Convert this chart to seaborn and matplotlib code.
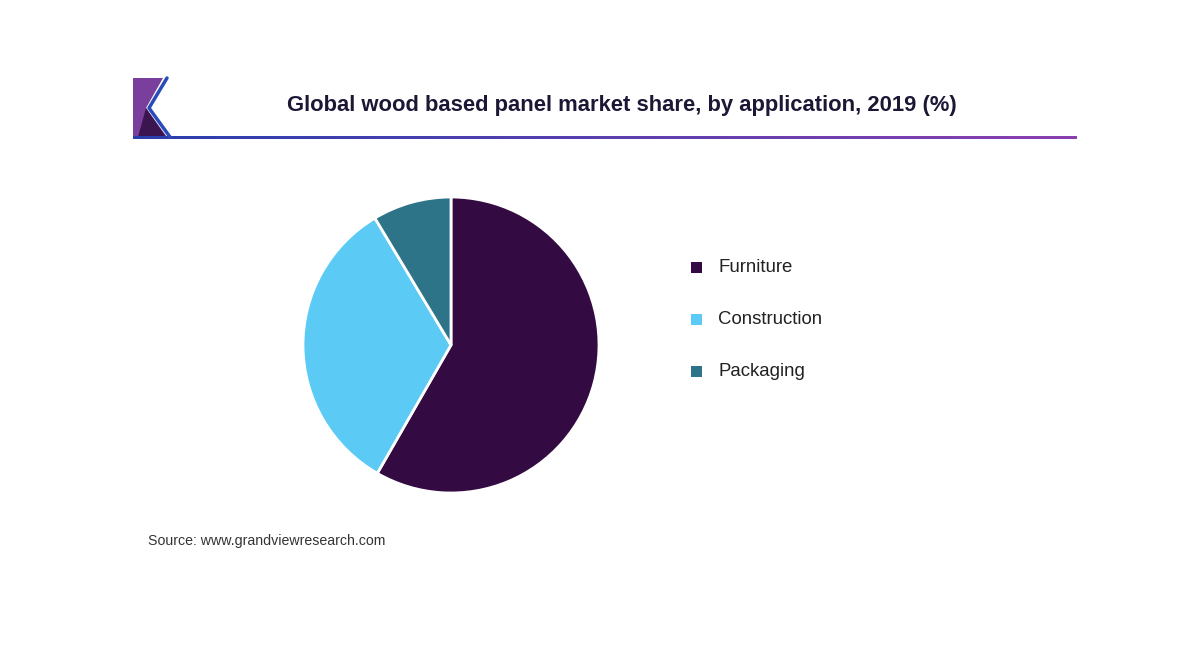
import matplotlib
matplotlib.use("Agg")
import matplotlib.pyplot as plt
import seaborn as sns
import numpy as np
from matplotlib.patches import Polygon, Rectangle
from matplotlib.collections import LineCollection

categories = ["Furniture", "Construction", "Packaging"]
shares = [58.3, 33.1, 8.6]
colors = ["#330A42", "#5BCBF5", "#2E7489"]
title = "Global wood based panel market share, by application, 2019 (%)"
source = "Source: www.grandviewresearch.com"

sns.set_theme(style="white")
plt.rcParams['font.family'] = ['Liberation Sans', 'DejaVu Sans']

W, H = 1200, 650
fig = plt.figure(figsize=(12, 6.5), dpi=100)
fig.patch.set_facecolor("white")

def fx(x):
    return x / W

def fy(y):
    return 1 - y / H

# Logo
purple = Polygon([(fx(133), fy(78)), (fx(163), fy(78)), (fx(146), fy(108)),
                  (fx(167), fy(137)), (fx(133), fy(137))], closed=True,
                 transform=fig.transFigure, facecolor="#7A3E9D", edgecolor="none")
fig.patches.append(purple)
dark = Polygon([(fx(146), fy(108)), (fx(138), fy(137)), (fx(166), fy(137))], closed=True,
               transform=fig.transFigure, facecolor="#3A1550", edgecolor="none")
fig.patches.append(dark)
chev = matplotlib.lines.Line2D([fx(167), fx(149), fx(170)], [fy(78), fy(108), fy(137)],
                               transform=fig.transFigure, color="#2A4CB8", linewidth=2.5)
fig.lines.append(chev)

# Gradient rule under title
xs = np.linspace(133, 1075, 60)
segs = [[(fx(xs[i]), fy(137)), (fx(xs[i + 1] + 1), fy(137))] for i in range(len(xs) - 1)]
c1 = np.array(matplotlib.colors.to_rgb("#2A3FAE"))
c2 = np.array(matplotlib.colors.to_rgb("#8A3FB0"))
cols = [tuple(c1 + (c2 - c1) * t) for t in np.linspace(0, 1, len(segs))]
lc = LineCollection(segs, colors=cols, linewidths=2.0, capstyle="butt", antialiaseds=False,
                    transform=fig.transFigure)
fig.add_artist(lc)

fig.text(fx(622), fy(105), title, ha="center", va="center", fontsize=15.8,
         fontweight="bold", color="#1C1735")

# Pie
cx, cy, r = 451, 345, 148
ax = fig.add_axes([fx(cx - r), 1 - (cy + r) / H, 2 * r / W, 2 * r / H])
wedges, _ = ax.pie(shares, colors=colors, startangle=90, counterclock=False,
                   radius=1.0, wedgeprops=dict(edgecolor="white", linewidth=2))
ax.set_xlim(-1.0, 1.0)
ax.set_ylim(-1.0, 1.0)
ax.set_aspect("equal")
ax.axis("off")

# Legend
leg_y = [267, 319, 371]
for name, col, y in zip(categories, colors, leg_y):
    fig.patches.append(Rectangle((fx(691), fy(y + 5.5)), 11 / W, 11 / H,
                                 transform=fig.transFigure, facecolor=col, edgecolor="none"))
    fig.text(fx(718), fy(y), name, ha="left", va="center", fontsize=13.4, color="#222222")

fig.text(fx(148), fy(541), source, ha="left", va="center", fontsize=10.2, color="#333333")

fig.savefig("out.png", dpi=100, facecolor="white")
